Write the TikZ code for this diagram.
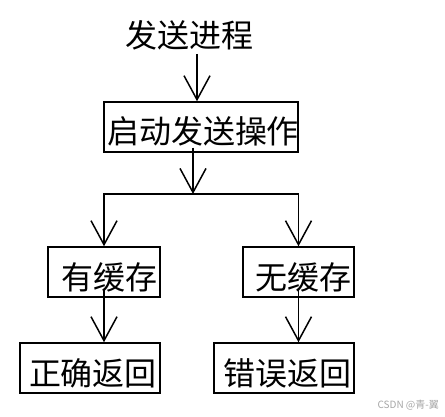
\documentclass[tikz,border=0pt]{standalone}
\usepackage{fontspec}
\newfontfamily\cjk{Noto Sans CJK SC}
\usepackage{tikz}
\usetikzlibrary{arrows.meta}
\tikzset{
    box/.style={
        draw=black,
        line width=1.5pt,
        minimum height=50pt,
        inner xsep=3pt,
        align=right,
        text height=34pt,
        text depth=0pt,
        font=\cjk\fontsize{32}{32}\selectfont,
    },
    label/.style={
        font=\cjk\fontsize{32}{32}\selectfont,
    },
}
\begin{document}
\begin{tikzpicture}[x=1pt,y=-1pt,line width=1.5pt,>={Straight Barb[length=24pt,width=26pt]}]
      \useasboundingbox (0,0) rectangle (445,417);
      \node [label] (Send) at (189,35) {发送进程};
      \node [box, text width=188pt] (Start) at (201,127) {启动发送操作};
      \coordinate (split) at (193,194);

      \node [box, text width=106pt] (HasBuf) at (104,272) {有缓存};
      \node [box, text width=105pt] (NoBuf) at (298.5,272) {无缓存};
      \node [box, text width=134pt] (OkRet) at (90,368) {正确返回};
      \node [box, text width=134pt] (ErrRet) at (284,368) {错误返回};

      \draw[->] ([xshift=8pt]Send.south) -- ([xshift=-4pt]Start.north);
      \draw[->] ([xshift=-8pt,yshift=5pt]Start.south) -- (split);
      \draw[->] (split) -| (HasBuf.north);
      \draw[->] (split) -| (NoBuf.north);
      \draw[->] ([yshift=9pt]HasBuf.south) -- (HasBuf.south |- OkRet.north);
      \draw[->] ([yshift=9pt]NoBuf.south) -- (NoBuf.south |- ErrRet.north);

      % watermark
      \node [anchor=east, text=black!35, font=\cjk\fontsize{10}{10}\selectfont] (mark) at (443,405) {CSDN @青-翼};
\end{tikzpicture}
\end{document}
